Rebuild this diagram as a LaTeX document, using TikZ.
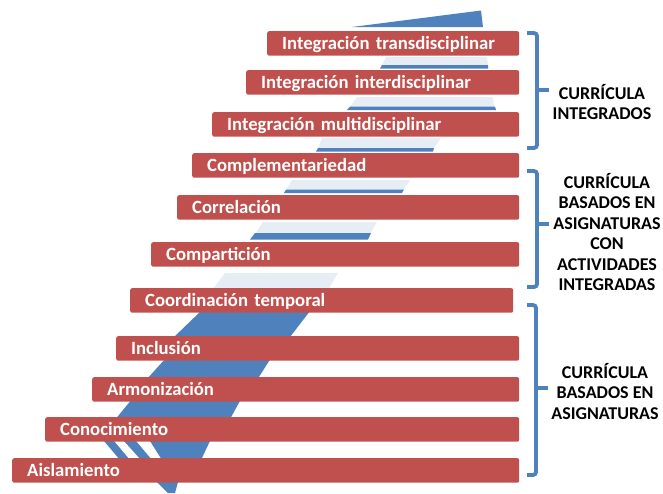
\documentclass[tikz,border=0pt]{standalone}
\usepackage{fontspec}
\setmainfont{Carlito}
\definecolor{barred}{HTML}{C0504D}
\definecolor{ribblue}{HTML}{4F81BD}
\definecolor{ribpale}{HTML}{E6EDF5}
\begin{document}
\begin{tikzpicture}[x=1pt,y=-1pt,
  bar/.style={fill=barred, draw=none, rounded corners=2pt, anchor=north west,
    minimum height=24.5pt, inner xsep=15pt, inner ysep=0pt, text=white,
    font=\bfseries\fontsize{18.7}{20}\selectfont, text height=12pt, text depth=0pt, align=left},
  dark/.style={fill=ribblue, draw=none},
  pale/.style={fill=ribpale, draw=none},
  brk/.style={draw=ribblue, line width=3.8pt, rounded corners=3pt},
  tip/.style={draw=ribblue, line width=3.8pt},
  grp/.style={align=center, font=\bfseries\fontsize{18}{20.5}\selectfont, text=black, inner sep=0pt}]
\useasboundingbox (0,0) rectangle (663,493);
% ribbon: lower dark pieces
\fill[dark] (201,311) -- (310,311) -- (290,337) -- (174,337) -- cycle;
\fill[dark] (166,358) -- (271,358) -- (257,380) -- (146,380) -- cycle;
\fill[dark] (132,399) -- (241,399) -- (229,421) -- (114,421) -- cycle;
\fill[dark] (150,441) -- (210,441) -- (201,460) -- (162,460) -- cycle;
\fill[dark] (104,441) -- (114,441) -- (130,460) -- (120,460) -- cycle;
\fill[dark] (124,441) -- (136,441) -- (152,460) -- (141,460) -- cycle;
\fill[dark] (157,482) -- (178,482) -- (175,493) -- (168,493) -- cycle;
% ribbon: upper pale pieces with dark edges
\fill[pale] (225,273) -- (338,273) -- (328,290) -- (212,290) -- cycle;
\fill[pale] (263,222) -- (377,222) -- (370,234) -- (255,234) -- cycle;
\fill[dark] (255,233) -- (371,233) -- (368,239.5) -- (250,239.5) -- cycle;
\fill[pale] (292,180) -- (410,180) -- (403,190) -- (286,190) -- cycle;
\fill[dark] (286,189.5) -- (404,189.5) -- (402,193) -- (284,193) -- cycle;
\fill[pale] (322,138) -- (441,138) -- (434,148) -- (318,148) -- cycle;
\fill[dark] (318,148) -- (434,148) -- (433,151.5) -- (316,151.5) -- cycle;
\fill[pale] (357,97) -- (493,97) -- (494,107) -- (350,107) -- cycle;
\fill[dark] (350,106.5) -- (495,106.5) -- (496,110) -- (347,110) -- cycle;
\fill[pale] (386,57) -- (487,57) -- (488,65) -- (382,65) -- cycle;
\fill[dark] (382,65) -- (488,65) -- (488,68.5) -- (380,68.5) -- cycle;
\fill[dark] (352,27) -- (481,10.5) -- (483,27) -- cycle;
% bars
\node[bar, minimum width=252pt, text width=222pt] (trans) at (267,31) {Integración transdisciplinar};
\node[bar, minimum width=273pt, text width=243pt] (inter) at (246,70) {Integración interdisciplinar};
\node[bar, minimum width=307pt, text width=277pt] (multi) at (212,112) {Integración multidisciplinar};
\node[bar, minimum width=327pt, text width=297pt] (compl) at (192,153) {Complementariedad};
\node[bar, minimum width=342pt, text width=312pt] (correl) at (177,195) {Correlación};
\node[bar, minimum width=368pt, text width=338pt] (compart) at (151,242) {Compartición};
\node[bar, minimum width=383pt, text width=353pt] (coord) at (130,288) {Coordinación temporal};
\node[bar, minimum width=403pt, text width=373pt] (incl) at (116,336) {Inclusión};
\node[bar, minimum width=427pt, text width=397pt] (armon) at (92,377) {Armonización};
\node[bar, minimum width=474pt, text width=444pt] (conoc) at (45,417) {Conocimiento};
\node[bar, minimum width=507pt, text width=477pt] (aisl) at (12,458) {Aislamiento};
% brackets
\draw[brk] (527,33) -- (537,33) -- (537,148) -- (527,148);
\draw[tip] (537,90) -- (549,90);
\draw[brk] (527,171) -- (537,171) -- (537,287) -- (527,287);
\draw[tip] (537,224) -- (549,224);
\draw[brk] (527,305) -- (536,305) -- (536,475) -- (527,475);
\draw[tip] (536,388) -- (548,388);
% group labels
\node[grp] (g1) at (602,102) {CURRÍCULA\\INTEGRADOS};
\node[grp] (g2) at (607,232) {CURRÍCULA\\BASADOS EN\\ASIGNATURAS\\CON\\ACTIVIDADES\\INTEGRADAS};
\node[grp] (g3) at (605,391) {CURRÍCULA\\BASADOS EN\\ASIGNATURAS};
\end{tikzpicture}
\end{document}
